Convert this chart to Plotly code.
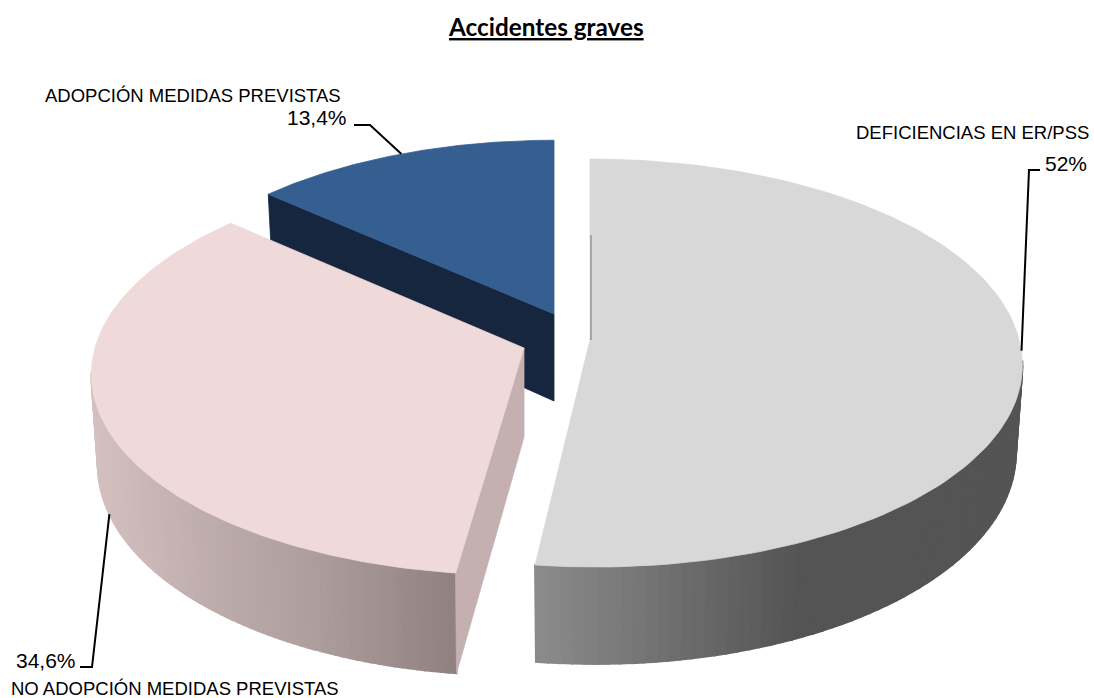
import numpy as np
import plotly.graph_objects as go

# Data
categories = ["DEFICIENCIAS EN ER/PSS", "NO ADOPCIÓN MEDIDAS PREVISTAS", "ADOPCIÓN MEDIDAS PREVISTAS"]
values = [52.0, 34.6, 13.4]
value_labels = ["52%", "34,6%", "13,4%"]
title = "Accidentes graves"

# Projection of the tilted disc (pixels)
RX, A, C, BOTTOM_X = 429.0, 201.4, -0.1127, 0.985
depth = [86.0, 89.0, 87.0]
apex = [(590, 340), (524, 348), (554, 314)]
scale = [1.0, 1.0, 0.96]
top_col = ["#d8d8d8", "#efd9d9", "#355f91"]
wall_stops = [
    ([535, 800, 1022], [(140, 140, 140), (84, 84, 84), (84, 84, 84)]),
    ([92, 200, 300, 458], [(212, 192, 192), (192, 174, 174), (176, 160, 160), (145, 128, 128)]),
]
cut_col = [None, "#c4b0b0", "#16263f"]


def shear(i, Y):
    if i == 0:
        return 0.025 * max(Y, 0)
    if i == 1:
        return -0.035 * Y
    return 0.0


def top(i, th):
    u, v = np.sin(th), -np.cos(th)
    k = 1 + C * v
    Y = scale[i] * A * v / k
    return apex[i][0] + scale[i] * RX * u / k + shear(i, Y), apex[i][1] + Y


def bottom(i, th):
    u, v = np.sin(th), -np.cos(th)
    k = 1 + C * v
    Y = scale[i] * A * v / k
    return (apex[i][0] + BOTTOM_X * scale[i] * RX * u / k + shear(i, Y),
            apex[i][1] + Y + depth[i] / k)


fig = go.Figure()


def poly(xs, ys, color, w=0.8):
    fig.add_trace(go.Scatter(x=xs, y=ys, mode="lines", fill="toself", fillcolor=color,
                             line=dict(color=color, width=w), hoverinfo="skip", showlegend=False))


def seg(x0, y0, x1, y1, color="#000000", w=2):
    fig.add_trace(go.Scatter(x=x0 + x1, y=y0 + y1, mode="lines", hoverinfo="skip", showlegend=False,
                             line=dict(color=color, width=w)))


total = sum(values)
edges = np.concatenate([[0], np.cumsum(values)]) / total * 2 * np.pi
mids = (edges[:-1] + edges[1:]) / 2

# draw order: back (blue), then grey, then pink
for i in [2, 0, 1]:
    t0, t1 = edges[i], edges[i + 1]
    ths = np.linspace(t0, t1, 130)
    ax, ay = apex[i]
    # side rim, only where it faces the viewer
    if i != 2:
        sx, sc = wall_stops[i]
        for a, b in zip(ths[:-1], ths[1:]):
            if -np.cos((a + b) / 2) < 0.11:
                continue
            p0, p1, q1, q0 = top(i, a), top(i, b), bottom(i, b), bottom(i, a)
            xm = (p0[0] + p1[0]) / 2
            rgb = [int(np.interp(xm, sx, [c[k] for c in sc])) for k in range(3)]
            poly([p0[0], p1[0], q1[0], q0[0], p0[0]], [p0[1], p1[1], q1[1], q0[1], p0[1]],
                 f"rgb({rgb[0]},{rgb[1]},{rgb[2]})", 2)
    # radial cut walls
    if i in (1, 2):
        p, q = top(i, t0), bottom(i, t0)
        poly([ax, p[0], q[0], ax, ax], [ay, p[1], q[1], ay + depth[i], ay], cut_col[i])
    # top face
    pts = [top(i, t) for t in ths]
    poly([ax] + [p[0] for p in pts] + [ax], [ay] + [p[1] for p in pts] + [ay], top_col[i])
    if i == 0:
        seg([ax + 1], [ay], [ax + 1], [ay - 105], "#777777", 1)

# leader lines from the mid-angle of each slice
g = top(0, mids[0])
seg([g[0]], [g[1] - 2], [1029, 1040], [170, 170])
p = bottom(1, mids[1])
seg([p[0]], [p[1]], [92, 80], [667, 667])
b = top(2, mids[2])
seg([b[0]], [b[1]], [370, 354], [125, 125])

label_font = dict(family="Liberation Sans", size=18.5, color="#000000")
pct_font = dict(family="Liberation Sans", size=21, color="#000000")
annots = [
    (1091, 132, categories[0], "right", label_font),
    (9, 688, categories[1], "left", label_font),
    (343, 95, categories[2], "right", label_font),
    (1089, 163, value_labels[0], "right", pct_font),
    (78, 660, value_labels[1], "right", pct_font),
    (349, 117, value_labels[2], "right", pct_font),
]
for x, y, t, anchor, f in annots:
    fig.add_annotation(x=x, y=y, text=t, showarrow=False, xanchor=anchor, yanchor="middle", font=f)

fig.add_annotation(x=546, y=26, text=f"<b><u>{title}</u></b>", showarrow=False, xanchor="center", yanchor="middle",
                   font=dict(family="Lato", size=24.3, color="#000000"))

fig.update_layout(width=1094, height=698, margin=dict(l=0, r=0, t=0, b=0), autosize=False,
                  paper_bgcolor="#ffffff", plot_bgcolor="#ffffff", showlegend=False,
                  xaxis=dict(range=[0, 1094], visible=False, fixedrange=True),
                  yaxis=dict(range=[698, 0], visible=False, fixedrange=True))
fig.write_html("out.html", config={"displayModeBar": False},
               post_script="document.body.style.margin='0';document.documentElement.style.overflow='hidden';")
